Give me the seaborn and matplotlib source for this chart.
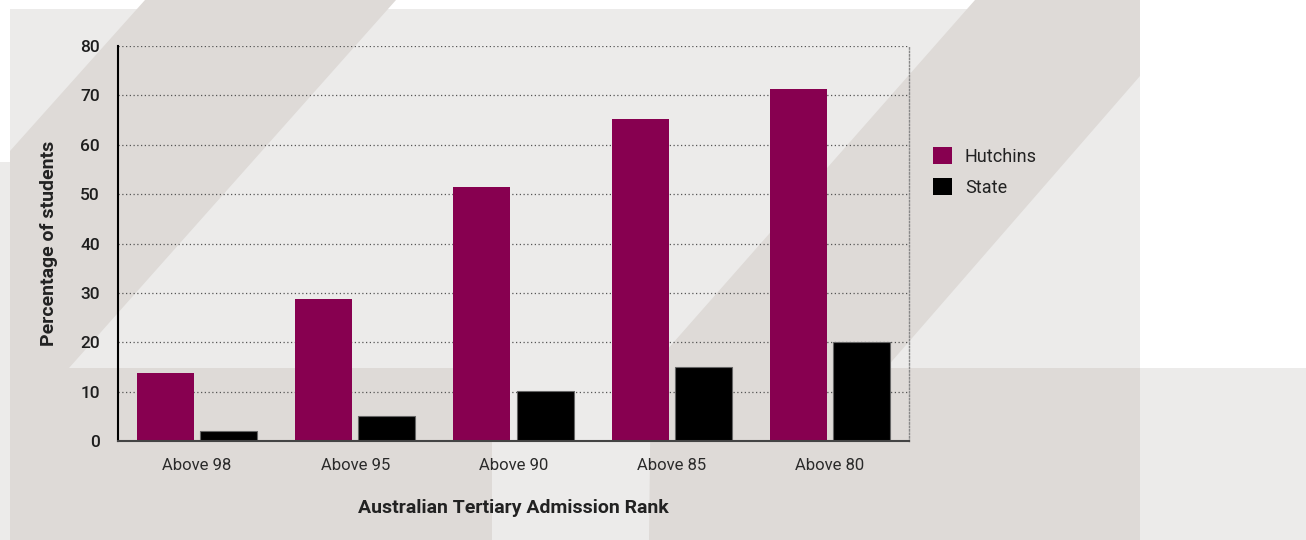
import numpy as np
import pandas as pd
import matplotlib
matplotlib.use("Agg")
import matplotlib.pyplot as plt
from matplotlib.patches import Polygon
from matplotlib.ticker import FixedLocator
import seaborn as sns

# ---- data ----
ranks = ["Above 98", "Above 95", "Above 90", "Above 85", "Above 80"]
hutchins = [13.8, 28.8, 51.4, 65.2, 71.3]
state = [2.1, 5.0, 10.1, 15.0, 20.0]
schools = ["Hutchins", "State"]
colors = ["#870050", "#000000"]
y_ticks = [0, 10, 20, 30, 40, 50, 60, 70, 80]

df = pd.DataFrame({
    "rank": ranks * 2,
    "pct": hutchins + state,
    "school": [schools[0]] * len(ranks) + [schools[1]] * len(ranks),
})

sns.set_theme(style="white")
plt.rcParams["font.family"] = ["Roboto", "DejaVu Sans"]

W, H = 1306, 540
fig = plt.figure(figsize=(W / 100, H / 100), dpi=100, facecolor="white")

# ---- decorative background (pixel coords, y down) ----
LIGHT, DARK = "#ECEBEA", "#DEDAD7"
bg = fig.add_axes([0, 0, 1, 1], zorder=0)
bg.set_xlim(0, W); bg.set_ylim(H, 0); bg.axis("off")
shapes = [
    (LIGHT, [(10, 9), (1140, 9), (1140, 540), (10, 540)]),
    (LIGHT, [(1140, 368), (1306, 368), (1306, 540), (1140, 540)]),
    (LIGHT, [(0, 162), (10, 162), (10, 540), (0, 540)]),
    (DARK, [(145, 0), (396, 0), (69, 368), (492, 368), (492, 540),
            (10, 540), (10, 151)]),
    (DARK, [(975, 0), (1140, 0), (1140, 76), (886, 368), (1140, 368),
            (1140, 540), (649, 540), (651, 368)]),
]
for col, pts in shapes:
    bg.add_patch(Polygon(pts, closed=True, facecolor=col, edgecolor="none"))

# ---- main chart ----
left, right, top, bottom = 118, 909, 46, 441
ax = fig.add_axes([left / W, 1 - bottom / H, (right - left) / W, (bottom - top) / H],
                  zorder=1)
ax.patch.set_alpha(0)

sns.barplot(data=df, x="rank", y="pct", hue="school", palette=colors,
            saturation=1, width=0.8, gap=0.1, linewidth=0, ax=ax)
for bar in ax.containers[1]:
    bar.set_edgecolor("#666666")
    bar.set_linewidth(0.8)

ax.set_xlim(-0.5, 4.5)
ax.set_ylim(0, 80)
ax.set_yticks(y_ticks)
ax.yaxis.grid(True, linestyle=(0, (1, 2)), color="#555555", linewidth=0.9)
ax.set_axisbelow(True)

ax.spines["top"].set_visible(False)
ax.spines["right"].set_visible(True)
ax.spines["right"].set_linestyle((0, (1, 1.5)))
ax.spines["right"].set_color("#888888")
ax.spines["right"].set_linewidth(1)
ax.spines["left"].set_color("#000000")
ax.spines["left"].set_linewidth(1.5)
ax.spines["bottom"].set_color("#444444")
ax.spines["bottom"].set_linewidth(1.5)

ax.tick_params(axis="y", direction="inout", length=14, width=1.3,
               color="#333333", pad=6, labelsize=12.5, labelcolor="#1e1e1e")
ax.tick_params(axis="x", which="major", length=0, pad=12, labelsize=12,
               labelcolor="#2a2a2a")
ax.xaxis.set_minor_locator(FixedLocator([0.5, 1.5, 2.5, 3.5, 4.5]))
ax.tick_params(axis="x", which="minor", direction="in", length=8, width=1,
               color="#444444")
for lab in ax.get_yticklabels():
    lab.set_fontweight("medium")

ax.set_xlabel("Australian Tertiary Admission Rank", fontsize=14,
              fontweight="bold", color="#222222", labelpad=19)
ax.set_ylabel("Percentage of students", fontsize=14, fontweight="bold",
              color="#222222", labelpad=16)

handles, labels = ax.get_legend_handles_labels()
ax.legend_.remove()
fig.legend(handles, labels, loc="upper left",
           bbox_to_anchor=(917 / W, 1 - 131 / H), frameon=False,
           fontsize=13, handlelength=1.05, handleheight=1.05,
           handletextpad=0.7, labelspacing=0.68, labelcolor="#222222")

fig.savefig("out.png", dpi=100, facecolor="white")
